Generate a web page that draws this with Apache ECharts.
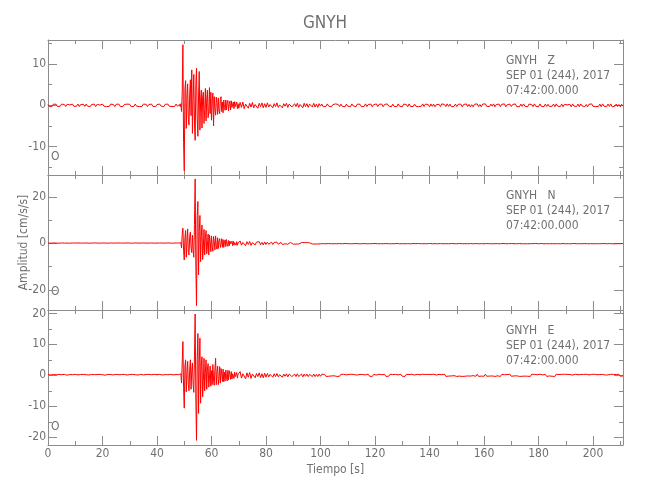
<!DOCTYPE html>
<html><head><meta charset="utf-8">
<script src="https://cdn.jsdelivr.net/npm/echarts@6/dist/echarts.min.js"></script>
<style>html,body{margin:0;padding:0;background:#fff}#c{width:650px;height:500px}</style>
</head><body><div id="c"></div>
<script>
// ---- data ----
const station = 'GNYH';
const components = ['Z', 'N', 'E'];
const dateText = 'SEP 01 (244), 2017';
const timeText = '07:42:00.000';
const originMark = 'O';
const xTitle = 'Tiempo [s]';
const yTitle = 'Amplitud [cm/s/s]';

const xMin = 0, xMax = 211;
const xMajorTicks = [0, 20, 40, 60, 80, 100, 120, 140, 160, 180, 200];
const xMinorTicks = [10, 30, 50, 70, 90, 110, 130, 150, 170, 190, 210];

const yRanges = [[-16.9, 15.85], [-28.7, 29.4], [-22.5, 21.1]];
const yMajorTicks = [[-10, 0, 10], [-20, 0, 20], [-20, -10, 0, 10, 20]];
const yMinorTicks = [[-15, -5, 5, 15], [-10, 10], [-15, -5, 5, 15]];

// sampling segments: start time [s] and sample step [s]
const segStart = [0, 48.25, 70.5];
const segStep = [0.5, 0.25, 0.5];

// Z component [cm/s/s]
const zPre = [0.2,-0.3,0.1,-0.25,0.3,-0.15,0.25,-0.3,0.05,-0.2,
 0.3,-0.1,0.2,-0.3,0.25,-0.2,0.1,-0.3,0.3,-0.25,
 0.15,-0.2,0.3,-0.3,0.2,-0.1,0.25,-0.25,0.3,-0.2,
 0.1,-0.3,0.2,-0.15,0.3,-0.3,0.25,-0.2,0.05,-0.25,
 0.3,-0.2,0.2,-0.3,0.1,-0.25,0.3,-0.15,0.2,-0.3,
 0.25,-0.1,0.3,-0.25,0.15,-0.3,0.2,-0.2,0.3,-0.1,
 0.25,-0.3,0.1,-0.25,0.3,-0.2,0.2,-0.3,0.15,-0.25,
 0.3,-0.15,0.25,-0.3,0.2,-0.1,0.3,-0.25,0.1,-0.3,
 0.2,-0.25,0.3,-0.2,0.15,-0.3,0.25,-0.1,0.3,-0.2,
 0.2,-0.3,0.1,-0.25,0.3,-0.2,0.25];
const zMain = [0.2,-0.3,0.4,-1.5,3.0,14.7,-9.0,-15.9,
 4.0,6.0,-5.6,2.0,5.2,-3.5,-4.8,3.0,
 6.2,-2.5,8.6,-6.8,1.5,7.5,-4.0,-8.5,
 5.0,9.0,-3.0,-7.5,2.5,8.2,-6.0,1.0,
 3.7,-5.5,2.0,3.2,-4.4,-1.0,4.1,-3.8,
 1.5,3.7,-3.0,-1.5,4.3,-2.0,3.2,-3.6,
 1.0,3.0,-5.0,2.1,-1.0,-2.4,2.0,0.5,
 -2.2,1.8,-1.2,-2.0,1.6,2.1,-1.5,0.8,
 -1.8,1.3,-0.5,-1.2,1.3,-1.1,0.6,1.2,
 -1.3,0.4,1.0,-1.1,1.1,-0.5,-0.9,0.8,
 -0.8,0.9,-0.3,-0.7,0.8,-0.8,0.4,-0.7];
const zPost = [0.7,-0.5,0.8,-0.8,0.3,0.6,-0.7,0.5,-0.4,0.7, -0.6,0.2,0.6,-0.7,0.5,-0.3,0.6,-0.6,0.4,-0.5,
 0.6,-0.4,0.2,0.5,-0.6,0.4,-0.3,0.6,-0.5,0.1, 0.5,-0.6,0.4,-0.2,0.5,-0.5,0.3,0.6,-0.4,-0.5,
 0.4,-0.3,0.5,-0.5,0.2,0.4,-0.6,0.5,-0.3,0.4, -0.5,0.3,0.2,-0.4,0.5,-0.4,0.3,-0.5,0.4,-0.2,
 0.3,-0.35,0.1,-0.25,0.35,-0.2,0.25,-0.35,0.15,-0.3,
 0.35,-0.1,0.2,-0.3,0.3,-0.25,0.05,-0.35,0.3,-0.2,
 0.25,-0.3,0.35,-0.15,0.2,-0.35,0.3,-0.1,0.25,-0.3,
 0.1,-0.25,0.35,-0.3,0.2,-0.2,0.3,-0.35,0.15,-0.25,
 0.35,-0.3,0.25,-0.1,0.3,-0.35,0.2,-0.25,0.35,-0.15,
 0.2,-0.35,0.3,-0.25,0.1,-0.3,0.35,-0.2,0.25,-0.35,
 0.3,-0.15,0.2,-0.35,0.35,-0.25,0.15,-0.3,0.3,-0.2,
 0.25,-0.35,0.1,-0.2,0.35,-0.3,0.3,-0.15,0.2,-0.35,
 0.35,-0.25,0.3,-0.35,0.15,-0.2,0.25,-0.3,0.35,-0.1,
 0.2,-0.3,0.35,-0.25,0.3,-0.35,0.1,-0.25,0.3,-0.3,
 0.25,-0.2,0.3,-0.35,0.2,-0.15,0.35,-0.3,0.25,-0.35,
 0.15,-0.35,0.25,-0.2,0.35,-0.3,0.2,-0.35,0.3,-0.1,
 0.35,-0.25,0.1,-0.3,0.3,-0.2,0.35,-0.35,0.2,-0.25,
 0.3,-0.3,0.25,-0.15,0.35,-0.35,0.15,-0.2,0.3,-0.3,
 0.2,-0.25,0.35,-0.3,0.1,-0.35,0.3,-0.25,0.35,-0.2,
 0.25,-0.35,0.3,-0.1,0.2,-0.3,0.35,-0.25,0.15,-0.35,
 0.35,-0.2,0.2,-0.35,0.3,-0.25,0.25,-0.3,0.1,-0.2,
 0.3,-0.35,0.35,-0.2,0.15,-0.3,0.3,-0.35,0.25,-0.15,
 0.1,-0.3,0.25,-0.35,0.35,-0.2,0.2,-0.25,0.3,-0.35,
 0.35,-0.15,0.3,-0.3,0.2,-0.35,0.25,-0.1,0.35,-0.25,
 0.2,-0.3,0.15,-0.25,0.3,-0.35,0.35,-0.2,0.25,-0.3,
 0.3,-0.25,0.35,-0.35,0.1,-0.2,0.3,-0.3,0.2,-0.35,
 0.25,-0.2];

// N component [cm/s/s]
const nPre = [0.1,-0.15,0.05,-0.1,0.15,-0.1,0.1,-0.15,0.05,-0.1,
 0.15,-0.05,0.1,-0.15,0.1,-0.1,0.05,-0.15,0.15,-0.1,
 0.1,-0.1,0.15,-0.15,0.1,-0.05,0.1,-0.1,0.15,-0.1,
 0.05,-0.15,0.1,-0.1,0.15,-0.15,0.1,-0.1,0.05,-0.1,
 0.15,-0.1,0.1,-0.15,0.05,-0.1,0.15,-0.05,0.1,-0.15,
 0.1,-0.05,0.15,-0.1,0.1,-0.15,0.1,-0.1,0.15,-0.05,
 0.1,-0.15,0.05,-0.1,0.15,-0.1,0.1,-0.15,0.1,-0.1,
 0.15,-0.1,0.1,-0.15,0.1,-0.05,0.15,-0.1,0.05,-0.15,
 0.1,-0.1,0.15,-0.1,0.1,-0.15,0.1,-0.05,0.15,-0.1,
 0.1,-0.15,0.05,-0.1,0.15,-0.1,0.1];
const nMain = [0.1,-0.2,0.3,-2.0,4.0,6.5,-3.0,-7.2,
 2.5,5.5,-6.0,1.0,6.2,-4.0,-5.0,3.0,
 4.8,-2.0,-4.0,3.5,-3.0,-6.0,8.0,27.7,
 -10.0,-26.8,12.0,18.0,-13.6,5.0,12.0,-7.9,
 3.0,7.9,-7.0,-2.0,6.0,-5.0,2.5,5.5,
 -4.5,-1.0,4.0,-5.0,3.6,1.0,-3.6,3.2,
 -1.5,-3.4,3.0,0.8,-2.8,3.2,-1.0,-2.5,
 2.4,-2.2,1.0,2.0,-1.8,-0.5,2.0,-1.7,
 1.6,-1.8,0.6,1.5,-1.4,1.6,-0.4,-1.3,
 1.2,-1.1,1.0,-0.3,-1.1,0.9,-1.0,0.9,
 -0.8,0.3,0.9,-0.8,0.7,-0.8,0.2,0.7];
const nPost = [1.0,-0.8,0.4,0.9,-1.0,0.7,-0.5,0.8,-0.9,0.3, 0.8,-0.7,0.5,-0.3,0.7,-0.6,0.4,-0.7,0.6,-0.5,
 0.5,-0.4,0.2,0.5,-0.5,0.4,-0.3,0.5,-0.4,0.1, 0.4,-0.5,0.3,-0.2,0.4,-0.4,0.3,0.4,-0.3,-0.4,
 0.3,-0.3,0.4,-0.3,0.1,0.3,-0.4,0.3,-0.2,0.3, -0.3,0.2,0.1,-0.3,0.3,-0.3,0.2,-0.3,0.3,-0.2,
 0.2,-0.15,0.1,-0.2,0.15,-0.1,0.2,-0.2,0.05,-0.15,
 0.15,-0.2,0.2,-0.1,0.1,-0.2,0.15,-0.05,0.2,-0.15,
 0.1,-0.2,0.15,-0.15,0.2,-0.1,0.05,-0.2,0.15,-0.2,
 0.2,-0.1,0.15,-0.2,0.1,-0.15,0.2,-0.15,0.1,-0.05,
 0.15,-0.2,0.2,-0.15,0.05,-0.2,0.15,-0.1,0.2,-0.2,
 0.1,-0.15,0.2,-0.2,0.15,-0.05,0.1,-0.2,0.2,-0.15,
 0.2,-0.2,0.1,-0.15,0.15,-0.2,0.2,-0.1,0.05,-0.15,
 0.15,-0.1,0.2,-0.2,0.1,-0.15,0.15,-0.2,0.2,-0.05,
 0.05,-0.2,0.15,-0.15,0.2,-0.2,0.1,-0.1,0.15,-0.2,
 0.2,-0.15,0.1,-0.2,0.2,-0.1,0.15,-0.15,0.1,-0.2,
 0.15,-0.05,0.2,-0.2,0.15,-0.15,0.05,-0.2,0.2,-0.1,
 0.1,-0.2,0.15,-0.1,0.2,-0.2,0.15,-0.15,0.1,-0.2,
 0.2,-0.1,0.05,-0.15,0.2,-0.2,0.1,-0.15,0.2,-0.15,
 0.15,-0.2,0.2,-0.05,0.1,-0.2,0.2,-0.15,0.15,-0.1,
 0.1,-0.15,0.15,-0.2,0.2,-0.1,0.1,-0.2,0.05,-0.2,
 0.2,-0.2,0.15,-0.15,0.1,-0.15,0.2,-0.05,0.15,-0.2,
 0.15,-0.1,0.2,-0.2,0.05,-0.15,0.15,-0.2,0.2,-0.15,
 0.1,-0.2,0.1,-0.15,0.2,-0.2,0.15,-0.1,0.1,-0.2,
 0.2,-0.15,0.15,-0.2,0.1,-0.05,0.2,-0.2,0.15,-0.15,
 0.05,-0.2,0.2,-0.1,0.15,-0.2,0.1,-0.15,0.2,-0.2,
 0.15,-0.15,0.1,-0.2,0.2,-0.15,0.05,-0.1,0.15,-0.2,
 0.2,-0.1,0.15,-0.2,0.1,-0.2,0.2,-0.15,0.1,-0.15,
 0.15,-0.1];

// E component [cm/s/s]
const ePre = [0.25,-0.3,0.1,-0.2,0.3,-0.25,0.15,-0.3,0.3,-0.1,
 0.2,-0.25,0.3,-0.3,0.05,-0.2,0.25,-0.3,0.2,-0.15,
 0.3,-0.2,0.15,-0.3,0.25,-0.25,0.3,-0.1,0.2,-0.3,
 0.1,-0.25,0.3,-0.2,0.2,-0.3,0.25,-0.15,0.3,-0.25,
 0.2,-0.3,0.05,-0.25,0.3,-0.2,0.25,-0.3,0.15,-0.2,
 0.3,-0.25,0.2,-0.1,0.25,-0.3,0.3,-0.2,0.1,-0.25,
 0.25,-0.3,0.3,-0.15,0.2,-0.25,0.1,-0.3,0.3,-0.2,
 0.15,-0.25,0.25,-0.3,0.3,-0.1,0.2,-0.25,0.3,-0.3,
 0.2,-0.15,0.3,-0.25,0.1,-0.3,0.25,-0.2,0.2,-0.3,
 0.3,-0.25,0.15,-0.2,0.25,-0.3,0.2];
const eMain = [0.3,-0.3,0.5,-2.5,4.0,10.9,-4.0,-10.6,
 3.0,5.0,-5.3,1.0,4.5,-3.0,-5.0,2.0,
 5.0,-4.5,1.5,4.0,-3.0,-5.5,6.0,19.8,
 -8.0,-21.0,5.0,13.5,-12.3,4.0,12.0,-9.0,
 3.0,6.0,-6.9,-2.0,5.5,-5.0,1.0,5.0,
 -4.5,2.0,3.8,-3.8,-1.0,3.0,-3.5,1.5,
 -3.0,3.5,-1.5,-3.2,2.0,5.5,-3.0,1.0,
 3.0,-3.0,-1.0,2.8,-2.5,2.2,0.5,-2.0,
 2.0,-2.1,1.0,-1.8,1.7,-0.5,-1.8,1.6,
 -1.5,1.5,0.4,-1.3,1.2,-1.2,0.5,1.1,
 -1.0,1.0,-0.4,-1.0,0.9,-0.9,0.3,0.9];
const ePost = [1.2,-0.9,0.5,1.0,-1.1,0.8,-0.6,0.9,-1.0,0.4, 0.9,-0.8,0.6,-0.4,0.8,-0.7,0.5,-0.8,0.7,-0.6,
 0.6,-0.5,0.3,0.6,-0.6,0.5,-0.4,0.6,-0.5,0.2, 0.5,-0.6,0.4,-0.3,0.5,-0.5,0.4,0.5,-0.4,-0.5,
 0.4,-0.4,0.5,-0.4,0.2,0.4,-0.5,0.4,-0.3,0.4, -0.4,0.3,0.2,-0.4,0.4,-0.4,0.3,-0.4,0.4,-0.3,
 0.35,-0.25,0.3,-0.35,0.1,-0.3,0.25,-0.2,0.35,-0.15,
 0.2,-0.35,0.25,-0.3,0.35,-0.1,0.3,-0.25,0.15,-0.35,
 0.3,-0.2,0.35,-0.25,0.2,-0.35,0.1,-0.3,0.3,-0.25,
 0.25,-0.35,0.15,-0.2,0.35,-0.3,0.25,-0.35,0.3,-0.1,
 0.1,-0.3,0.35,-0.25,0.2,-0.2,0.3,-0.35,0.25,-0.3,
 0.35,-0.15,0.25,-0.35,0.3,-0.25,0.15,-0.2,0.35,-0.3,
 0.2,-0.35,0.3,-0.1,0.25,-0.3,0.35,-0.25,0.1,-0.35,
 0.3,-0.25,0.2,-0.35,0.35,-0.15,0.25,-0.3,0.3,-0.2,
 0.25,-0.3,0.35,-0.2,0.1,-0.35,0.3,-0.25,0.2,-0.3,
 0.35,-0.35,0.15,-0.25,0.3,-0.2,0.35,-0.1,0.25,-0.35,
 0.2,-0.25,0.3,-0.35,0.25,-0.3,0.1,-0.2,0.35,-0.25,
 0.3,-0.1,0.25,-0.3,0.35,-0.35,0.2,-0.25,0.15,-0.3,
 0.35,-0.3,0.1,-0.25,0.3,-0.2,0.35,-0.35,0.25,-0.15,
 0.15,-0.35,0.3,-0.3,0.2,-0.25,0.25,-0.1,0.35,-0.3,
 0.3,-0.2,0.35,-0.15,0.25,-0.35,0.1,-0.3,0.3,-0.25,
 0.25,-0.3,0.2,-0.35,0.35,-0.1,0.3,-0.25,0.2,-0.35,
 0.35,-0.25,0.15,-0.3,0.3,-0.35,0.25,-0.2,0.1,-0.3,
 0.2,-0.35,0.35,-0.2,0.25,-0.15,0.3,-0.3,0.35,-0.25,
 0.3,-0.15,0.25,-0.35,0.1,-0.3,0.35,-0.25,0.2,-0.2,
 0.25,-0.35,0.3,-0.25,0.35,-0.2,0.15,-0.35,0.3,-0.1,
 0.35,-0.2,0.2,-0.3,0.25,-0.35,0.3,-0.15,0.1,-0.25,
 0.15,-0.3,0.35,-0.25,0.3,-0.2,0.25,-0.35,0.35,-0.3,
 0.25,-0.2];

const channels = [[zPre, zMain, zPost], [nPre, nMain, nPost], [ePre, eMain, ePost]];

// ---- build ----
function toPairs(segs) {
  const out = [];
  segs.forEach((vals, s) => vals.forEach((v, i) => out.push([segStart[s] + i * segStep[s], v])));
  return out;
}

const FONT = "'Liberation Sans Narrow', 'DejaVu Sans Condensed', sans-serif";
const AX = '#8c8c8c';
const TX = '#707070';
const RED = '#ff0000';
const gridTops = [40, 175, 310];
const gridH = 135;

const grids = [], xAxes = [], yAxes = [], series = [], graphics = [];

gridTops.forEach((top, g) => {
  grids.push({ left: 48, right: 27, top: top, height: gridH });
  const mkX = (pos, ticks, len, line, labels) => ({
    type: 'value', gridIndex: g, min: xMin, max: xMax, position: pos,
    axisLine: { show: line, onZero: false, lineStyle: { color: AX, width: 1 } },
    axisTick: { show: true, inside: true, length: len, customValues: ticks, lineStyle: { color: AX } },
    axisLabel: { show: labels, customValues: xMajorTicks, color: TX, fontSize: 12, fontFamily: FONT, margin: 3 },
    splitLine: { show: false },
    name: (labels ? xTitle : ''), nameLocation: 'middle', nameGap: 19, nameMoveOverlap: false,
    nameTextStyle: { color: TX, fontSize: 12, fontFamily: FONT }
  });
  xAxes.push(mkX('bottom', xMajorTicks, 9, true, g === 2));
  xAxes.push(mkX('bottom', xMinorTicks, 4, false, false));
  xAxes.push(mkX('top', xMajorTicks, 9, true, false));
  xAxes.push(mkX('top', xMinorTicks, 4, false, false));

  const mkY = (pos, ticks, len, line, labels) => ({
    type: 'value', gridIndex: g, min: yRanges[g][0], max: yRanges[g][1], position: pos,
    axisLine: { show: line, onZero: false, lineStyle: { color: AX, width: 1 } },
    axisTick: { show: true, inside: true, length: len, customValues: ticks, lineStyle: { color: AX } },
    axisLabel: { show: labels, customValues: yMajorTicks[g], color: TX, fontSize: 12, fontFamily: FONT, margin: 2 },
    splitLine: { show: false },
    name: (labels && g === 1 ? yTitle : ''), nameLocation: 'middle', nameGap: 18, nameRotate: 90,
    nameMoveOverlap: false,
    nameTextStyle: { color: TX, fontSize: 12, fontFamily: FONT }
  });
  yAxes.push(mkY('left', yMajorTicks[g], 9, true, true));
  yAxes.push(mkY('left', yMinorTicks[g], 4, false, false));
  yAxes.push(mkY('right', yMajorTicks[g], 9, true, false));
  yAxes.push(mkY('right', yMinorTicks[g], 4, false, false));

  series.push({
    type: 'line', xAxisIndex: 4 * g, yAxisIndex: 4 * g,
    data: toPairs(channels[g]), showSymbol: false, symbol: 'none',
    sampling: 'none', silent: true, clip: true,
    lineStyle: { color: RED, width: 1 }
  });

  graphics.push({
    type: 'text', left: 506, top: top + 13, silent: true,
    style: { text: station + '   ' + components[g] + '\n' + dateText + '\n' + timeText,
      fill: TX, font: '12px ' + FONT, lineHeight: 15 }
  });
  graphics.push({
    type: 'text', left: 51, top: top + 111, silent: true,
    style: { text: originMark, fill: TX, font: '12px ' + FONT }
  });
});

const chart = echarts.init(document.getElementById('c'), null, { renderer: 'canvas' });
chart.setOption({
  animation: false,
  backgroundColor: '#fff',
  title: { text: station, left: 'center', top: 10,
    textStyle: { color: TX, fontSize: 17, fontWeight: 'normal', fontFamily: FONT } },
  grid: grids, xAxis: xAxes, yAxis: yAxes, series: series, graphic: graphics
});
</script></body></html>
